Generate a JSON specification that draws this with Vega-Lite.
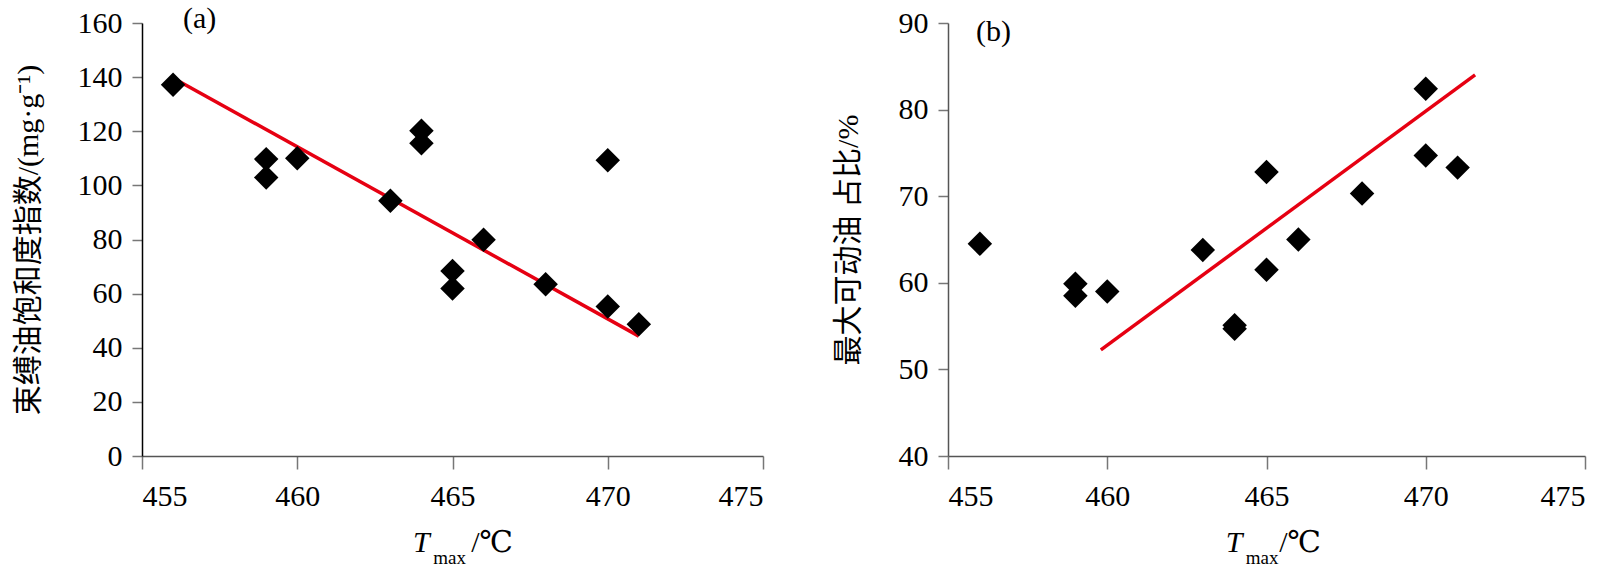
{
  "$schema": "https://vega.github.io/schema/vega-lite/v6.json",
  "background": "white",
  "padding": {"left": 13, "top": 3, "right": 5, "bottom": 5},
  "bounds": "flush",
  "spacing": 185,
  "config": {
    "view": {"stroke": null},
    "axis": {
      "grid": false,
      "labelFont": "Liberation Serif",
      "labelFontSize": 30,
      "labelColor": "black",
      "titleFont": "'Liberation Serif', 'Noto Sans CJK SC'",
      "titleFontSize": 30,
      "titleFontWeight": "normal",
      "titleColor": "black",
      "domainColor": "#555555",
      "tickColor": "#777777",
      "domainWidth": 1.5,
      "tickWidth": 1.5
    },
    "axisX": {"tickSize": 13, "labelPadding": 12},
    "axisY": {"tickSize": 10, "labelPadding": 10, "minExtent": 70, "maxExtent": 70}
  },
  "hconcat": [
    {
      "width": 621,
      "height": 433,
      "layer": [
        {
          "data": {"values": [{"t": 456, "v": 139.7}, {"t": 471, "v": 44.3}]},
          "mark": {"type": "line", "color": "#e60012", "strokeWidth": 3.5},
          "encoding": {
            "x": {"field": "t", "type": "quantitative", "scale": {"domain": [455, 475], "nice": false, "zero": false}, "axis": {"values": [455, 460, 465, 470, 475], "title": null, "labelFont": "Liberation Serif", "labelFontSize": 30}},
            "y": {"field": "v", "type": "quantitative", "scale": {"domain": [0, 160], "nice": false}, "axis": {"values": [0, 20, 40, 60, 80, 100, 120, 140, 160], "title": "束缚油饱和度指数/(mg·g⁻¹)", "titlePadding": 29, "domainColor": "black", "labelFont": "Liberation Serif", "labelFontSize": 30}}
          }
        },
        {
          "data": {"values": [
            {"t": 456, "v": 137.2},
            {"t": 459, "v": 109.7},
            {"t": 459, "v": 102.9},
            {"t": 460, "v": 110.0},
            {"t": 463, "v": 94.3},
            {"t": 464, "v": 120.2},
            {"t": 464, "v": 115.6},
            {"t": 465, "v": 68.4},
            {"t": 465, "v": 61.9},
            {"t": 466, "v": 79.9},
            {"t": 468, "v": 63.5},
            {"t": 470, "v": 109.3},
            {"t": 470, "v": 55.2},
            {"t": 471, "v": 48.7}
          ]},
          "mark": {"type": "point", "shape": "diamond", "filled": true, "size": 600, "color": "black", "opacity": 1},
          "encoding": {
            "x": {"field": "t", "type": "quantitative"},
            "y": {"field": "v", "type": "quantitative"}
          }
        },
        {
          "data": {"values": [{}]},
          "mark": {"type": "text", "text": "(a)", "font": "Liberation Serif", "fontSize": 30, "align": "left", "baseline": "alphabetic", "color": "black"},
          "encoding": {"x": {"datum": 456.32, "type": "quantitative"}, "y": {"datum": 158.2, "type": "quantitative"}}
        },
        {
          "data": {"values": [{}]},
          "mark": {"type": "text", "text": "T", "font": "Liberation Serif", "fontStyle": "italic", "fontSize": 30, "align": "center", "baseline": "alphabetic", "color": "black"},
          "encoding": {"x": {"datum": 464.0, "type": "quantitative"}, "y": {"datum": -35.5, "type": "quantitative"}}
        },
        {
          "data": {"values": [{}]},
          "mark": {"type": "text", "text": "max", "font": "Liberation Serif", "fontSize": 19, "align": "left", "baseline": "alphabetic", "color": "black"},
          "encoding": {"x": {"datum": 464.38, "type": "quantitative"}, "y": {"datum": -39.9, "type": "quantitative"}}
        },
        {
          "data": {"values": [{}]},
          "mark": {"type": "text", "text": "/℃", "font": "'Liberation Serif', 'DejaVu Serif', 'Noto Sans CJK SC'", "fontSize": 30, "align": "left", "baseline": "alphabetic", "color": "black"},
          "encoding": {"x": {"datum": 465.6, "type": "quantitative"}, "y": {"datum": -35.5, "type": "quantitative"}}
        }
      ]
    },
    {
      "width": 637,
      "height": 433,
      "layer": [
        {
          "data": {"values": [{"t": 459.8, "v": 52.25}, {"t": 471.55, "v": 84.0}]},
          "mark": {"type": "line", "color": "#e60012", "strokeWidth": 3.5},
          "encoding": {
            "x": {"field": "t", "type": "quantitative", "scale": {"domain": [455, 475], "nice": false, "zero": false}, "axis": {"values": [455, 460, 465, 470, 475], "title": null, "labelFont": "Liberation Serif", "labelFontSize": 30}},
            "y": {"field": "v", "type": "quantitative", "scale": {"domain": [40, 90], "nice": false, "zero": false}, "axis": {"values": [40, 50, 60, 70, 80, 90], "title": "最大可动油 占比/%", "titlePadding": 15, "labelFont": "Liberation Serif", "labelFontSize": 30}}
          }
        },
        {
          "data": {"values": [
            {"t": 456, "v": 64.5},
            {"t": 459, "v": 59.9},
            {"t": 459, "v": 58.5},
            {"t": 460, "v": 59.0},
            {"t": 463, "v": 63.8},
            {"t": 464, "v": 55.1},
            {"t": 464, "v": 54.7},
            {"t": 465, "v": 72.8},
            {"t": 465, "v": 61.5},
            {"t": 466, "v": 65.0},
            {"t": 468, "v": 70.3},
            {"t": 470, "v": 82.4},
            {"t": 470, "v": 74.7},
            {"t": 471, "v": 73.3}
          ]},
          "mark": {"type": "point", "shape": "diamond", "filled": true, "size": 600, "color": "black", "opacity": 1},
          "encoding": {
            "x": {"field": "t", "type": "quantitative"},
            "y": {"field": "v", "type": "quantitative"}
          }
        },
        {
          "data": {"values": [{}]},
          "mark": {"type": "text", "text": "(b)", "font": "Liberation Serif", "fontSize": 30, "align": "left", "baseline": "alphabetic", "color": "black"},
          "encoding": {"x": {"datum": 455.88, "type": "quantitative"}, "y": {"datum": 87.9, "type": "quantitative"}}
        },
        {
          "data": {"values": [{}]},
          "mark": {"type": "text", "text": "T", "font": "Liberation Serif", "fontStyle": "italic", "fontSize": 30, "align": "center", "baseline": "alphabetic", "color": "black"},
          "encoding": {"x": {"datum": 463.98, "type": "quantitative"}, "y": {"datum": 28.94, "type": "quantitative"}}
        },
        {
          "data": {"values": [{}]},
          "mark": {"type": "text", "text": "max", "font": "Liberation Serif", "fontSize": 19, "align": "left", "baseline": "alphabetic", "color": "black"},
          "encoding": {"x": {"datum": 464.35, "type": "quantitative"}, "y": {"datum": 27.56, "type": "quantitative"}}
        },
        {
          "data": {"values": [{}]},
          "mark": {"type": "text", "text": "/℃", "font": "'Liberation Serif', 'DejaVu Serif', 'Noto Sans CJK SC'", "fontSize": 30, "align": "left", "baseline": "alphabetic", "color": "black"},
          "encoding": {"x": {"datum": 465.4, "type": "quantitative"}, "y": {"datum": 28.94, "type": "quantitative"}}
        }
      ]
    }
  ]
}
